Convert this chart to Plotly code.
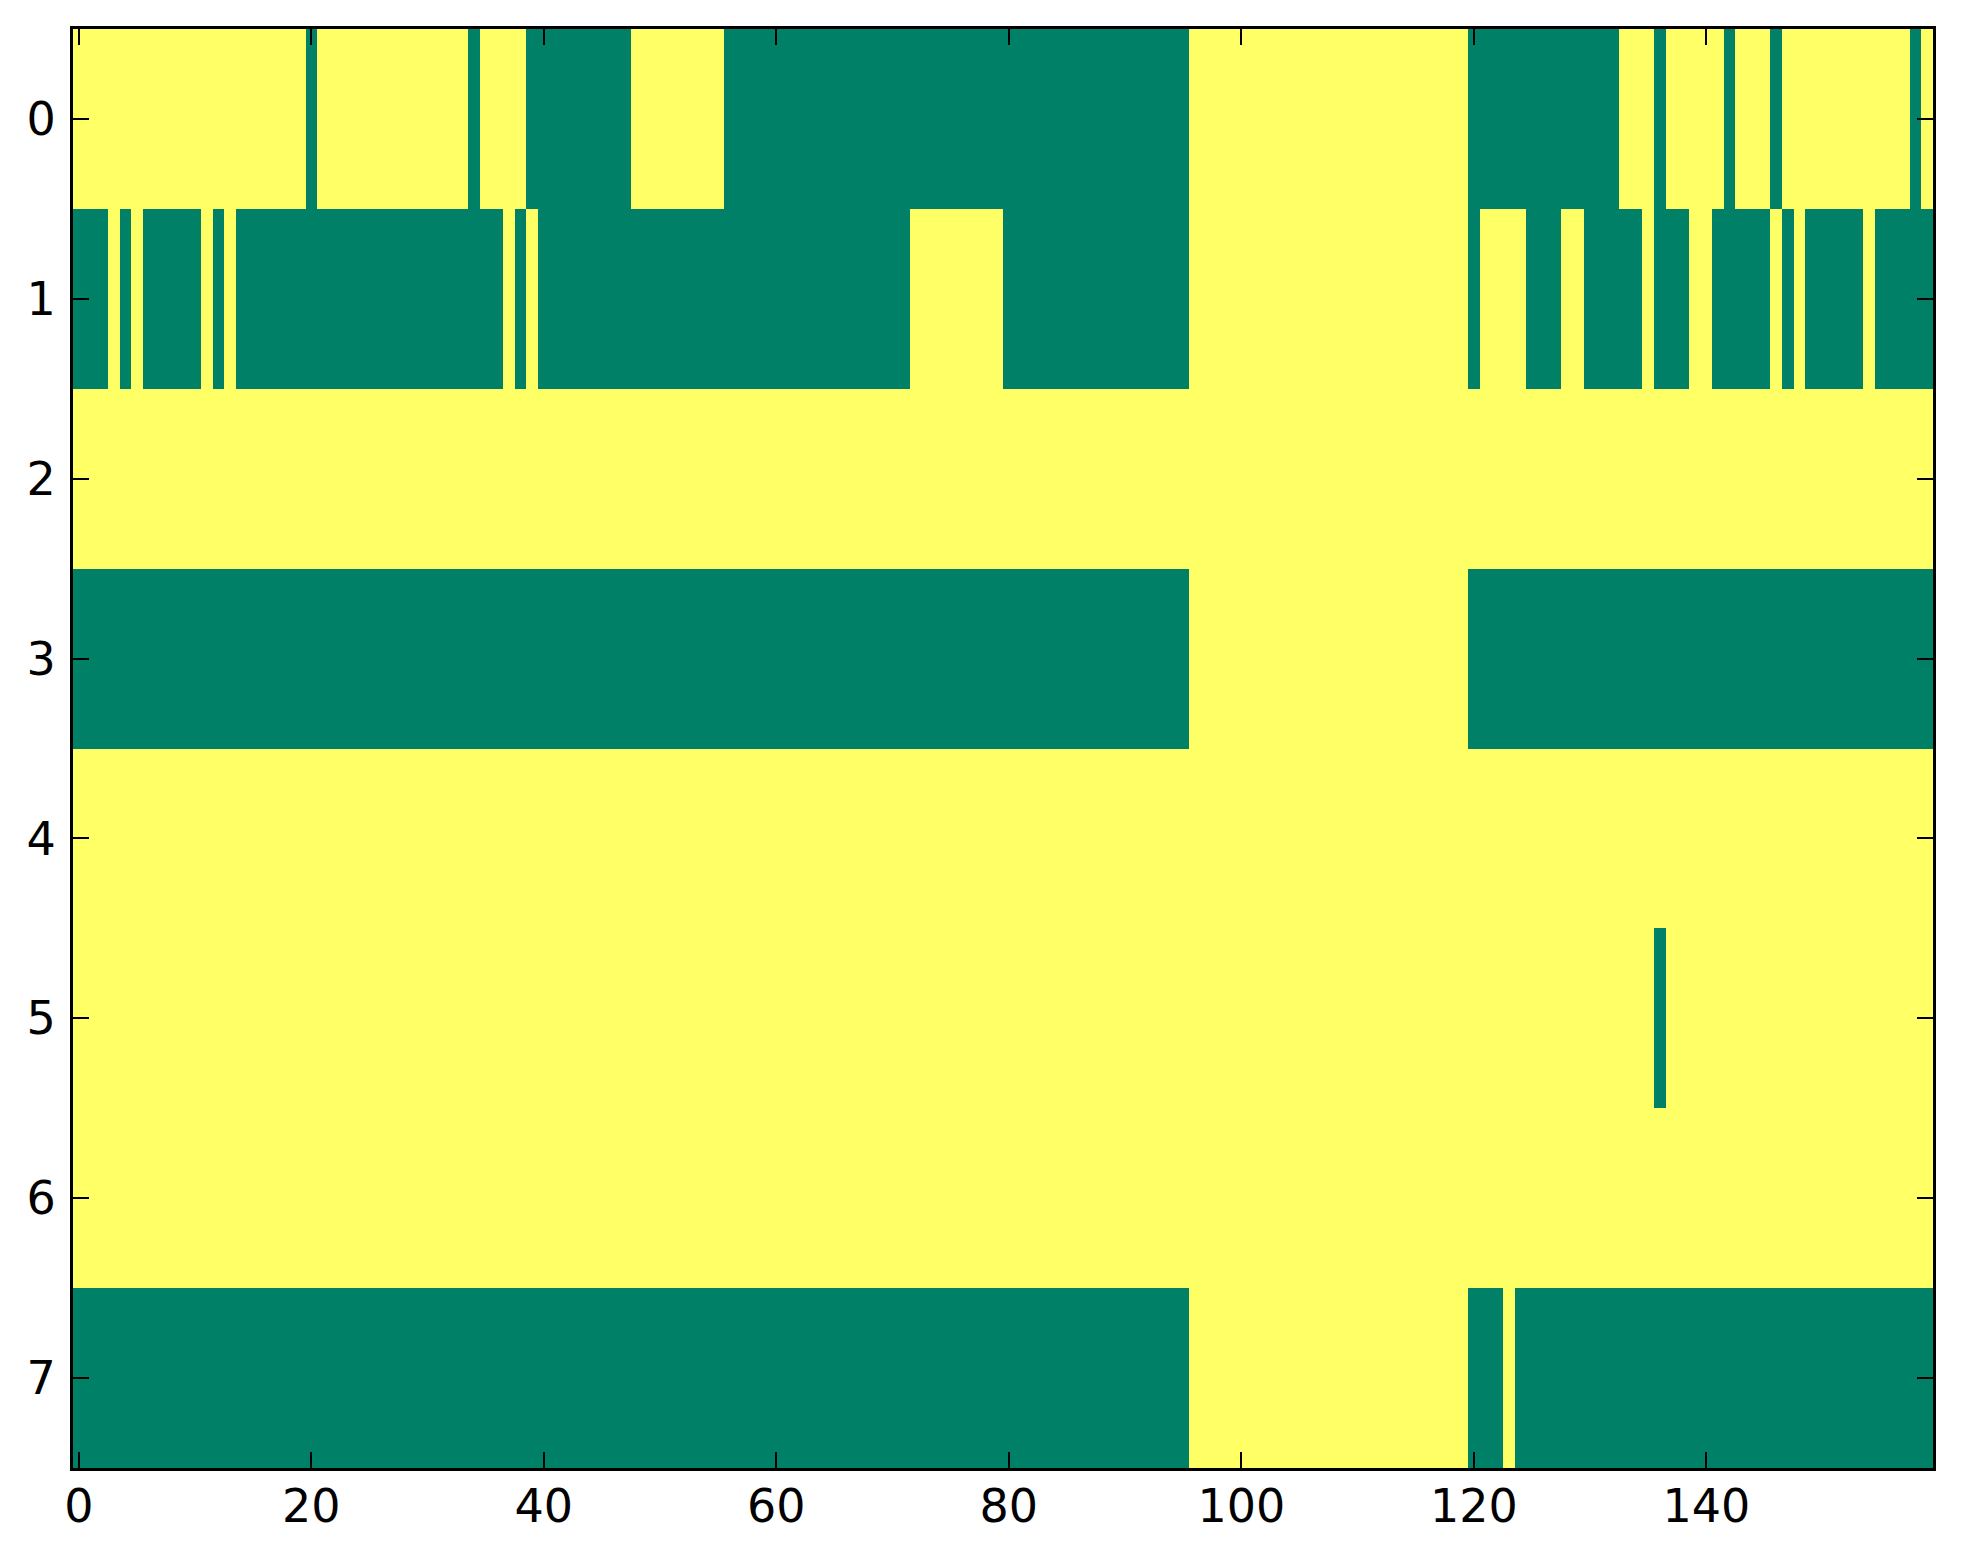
import plotly.graph_objects as go

# Each row: 160 cells, written in 8 blocks of 20 columns (1 = yellow, 0 = green)
row0 = ["11111111111111111111", "01111111111111011110", "00000000111111110000", "00000000000000000000",
        "00000000000000001111", "11111111111111111111", "00000000000001110111", "11011101111111111101"]
row1 = ["00010100000101000000", "00000000000000000101", "00000000000000000000", "00000000000011111111",
        "00000000000000001111", "11111111111111111111", "01111000110000010001", "10000010100000100000"]
row2 = ["11111111111111111111", "11111111111111111111", "11111111111111111111", "11111111111111111111",
        "11111111111111111111", "11111111111111111111", "11111111111111111111", "11111111111111111111"]
row3 = ["00000000000000000000", "00000000000000000000", "00000000000000000000", "00000000000000000000",
        "00000000000000001111", "11111111111111111111", "00000000000000000000", "00000000000000000000"]
row4 = ["11111111111111111111", "11111111111111111111", "11111111111111111111", "11111111111111111111",
        "11111111111111111111", "11111111111111111111", "11111111111111111111", "11111111111111111111"]
row5 = ["11111111111111111111", "11111111111111111111", "11111111111111111111", "11111111111111111111",
        "11111111111111111111", "11111111111111111111", "11111111111111110111", "11111111111111111111"]
row6 = ["11111111111111111111", "11111111111111111111", "11111111111111111111", "11111111111111111111",
        "11111111111111111111", "11111111111111111111", "11111111111111111111", "11111111111111111111"]
row7 = ["00000000000000000000", "00000000000000000000", "00000000000000000000", "00000000000000000000",
        "00000000000000001111", "11111111111111111111", "00010000000000000000", "00000000000000000000"]

rows = [row0, row1, row2, row3, row4, row5, row6, row7]
z = [[int(ch) for ch in "".join(r)] for r in rows]

x_ticks = [0, 20, 40, 60, 80, 100, 120, 140]
y_ticks = [0, 1, 2, 3, 4, 5, 6, 7]

fig = go.Figure(go.Heatmap(
    z=z,
    x=list(range(len(z[0]))),
    y=list(range(len(z))),
    colorscale=[[0, "#008066"], [1, "#ffff66"]],
    zmin=0, zmax=1,
    showscale=False,
    zsmooth=False,
    hoverinfo="skip",
))

axis_common = dict(
    showline=True, linecolor="black", linewidth=3, mirror="ticks",
    ticks="inside", ticklen=16, tickwidth=2, tickcolor="black",
    showgrid=False, zeroline=False,
    tickfont=dict(family="DejaVu Sans", size=46, color="black"),
)

fig.update_layout(
    width=1963, height=1564,
    margin=dict(l=65, r=38, t=21, b=104),
    paper_bgcolor="white", plot_bgcolor="white",
    xaxis=dict(range=[-0.5, 159.5], tickvals=x_ticks, ticklabelstandoff=-4, **axis_common),
    yaxis=dict(range=[7.5, -0.5], tickvals=y_ticks, ticklabelstandoff=5, **axis_common),
)

fig.write_html("out.html")
